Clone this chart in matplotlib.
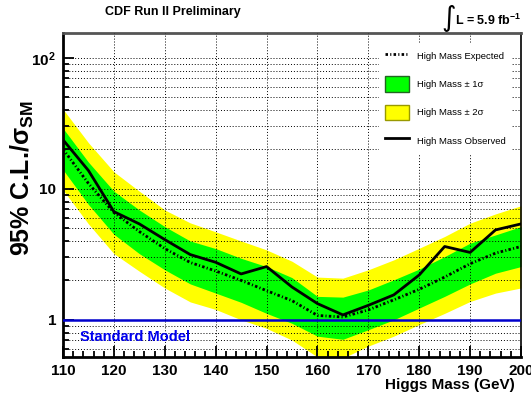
import numpy as np
import matplotlib
matplotlib.use("Agg")
from matplotlib import pyplot as plt
from matplotlib.lines import Line2D
from matplotlib.patches import Patch
from matplotlib.ticker import FixedLocator, FixedFormatter, LogLocator, NullFormatter, MultipleLocator

plt.rcParams['font.family'] = ['Liberation Sans', 'DejaVu Sans']
plt.rcParams['mathtext.fontset'] = 'custom'
plt.rcParams['mathtext.rm'] = 'Liberation Sans'
plt.rcParams['mathtext.bf'] = 'Liberation Sans:bold'
plt.rcParams['mathtext.it'] = 'Liberation Sans:italic'

# Higgs mass points (GeV)
mass = [110, 115, 120, 125, 130, 135, 140, 145, 150, 155,
        160, 165, 170, 175, 180, 185, 190, 195, 200]

# 95% CL limits / SM
observed = [23.7, 13.8, 6.7, 5.4, 4.1, 3.15, 2.75, 2.24, 2.55, 1.78,
            1.33, 1.09, 1.29, 1.55, 2.2, 3.63, 3.27, 4.86, 5.4]
expected = [20.1, 11.0, 6.6, 4.72, 3.5, 2.74, 2.36, 2.0, 1.67, 1.40,
            1.08, 1.05, 1.19, 1.42, 1.71, 2.12, 2.68, 3.23, 3.63]
minus1 = [14.0, 7.6, 4.5, 3.2, 2.41, 1.88, 1.6, 1.36, 1.12, 0.94,
          0.75, 0.71, 0.84, 1.0, 1.23, 1.51, 1.88, 2.27, 2.55]
plus1 = [29.0, 16.0, 9.6, 6.9, 5.15, 4.0, 3.5, 2.95, 2.55, 2.1,
         1.51, 1.49, 1.69, 2.02, 2.44, 3.04, 3.85, 4.45, 5.15]
minus2 = [9.8, 5.4, 3.2, 2.35, 1.75, 1.37, 1.2, 1.0, 0.86, 0.70,
          0.52, 0.51, 0.63, 0.75, 0.92, 1.12, 1.38, 1.6, 1.75]
plus2 = [40.6, 22.5, 13.5, 9.6, 6.9, 5.5, 4.7, 4.0, 3.42, 2.8,
         2.12, 2.08, 2.41, 2.87, 3.52, 4.33, 5.47, 6.44, 7.43]

fig = plt.figure(figsize=(5.31, 4.05), dpi=100)
ax = fig.add_axes([63/531, 1-357/405, (521-63)/531, (357-33)/405])

ax.fill_between(mass, minus2, plus2, color='#ffff00', lw=0, zorder=1)
ax.fill_between(mass, minus1, plus1, color='#00ff00', lw=0, zorder=1.1)
exp_style = (0, (0.9, 0.8, 0.4, 0.8))
ax.plot(mass, expected, color='black', lw=2.0, linestyle=exp_style, zorder=3)
ax.plot(mass, observed, color='black', lw=2.0, zorder=3)
ax.axhline(1.0, color='#0000cc', lw=1.8, zorder=3)
ax.text(113.3, 0.74, 'Standard Model', color='#0000ee', fontsize=10.5,
        fontweight='bold', va='center', ha='left', zorder=4)

ax.set_yscale('log')
ax.set_xlim(110, 200)
ax.set_ylim(0.52, 155)

ax.xaxis.set_major_locator(MultipleLocator(10))
ax.xaxis.set_minor_locator(MultipleLocator(2))
ax.yaxis.set_major_locator(FixedLocator([1, 10, 100]))
ax.yaxis.set_major_formatter(FixedFormatter(['1', '10', r'$\mathbf{10^{2}}$']))
ax.yaxis.set_minor_locator(LogLocator(base=10, subs=np.arange(2, 10)))
ax.yaxis.set_minor_formatter(NullFormatter())

ax.set_axisbelow(False)
grid_style = (0, (1, 2))
ax.grid(which='major', axis='x', color='black', linestyle=grid_style, lw=0.7)
ax.grid(which='both', axis='y', color='black', linestyle=grid_style, lw=0.7)

ax.tick_params(which='both', direction='in', top=False, right=False, width=1.3)
ax.tick_params(which='major', length=8, labelsize=11, pad=5)
ax.tick_params(which='minor', length=4)
for lab in ax.get_xticklabels() + ax.get_yticklabels():
    lab.set_fontweight('bold')

for side in ['left', 'bottom']:
    ax.spines[side].set_linewidth(2)
ax.spines['top'].set_linewidth(2)
ax.spines['top'].set_color('#555555')
ax.spines['right'].set_linewidth(1.2)

handles = [
    Line2D([], [], color='black', lw=2.0, linestyle=exp_style),
    Patch(facecolor='#00ff00', edgecolor='#226622', lw=1),
    Patch(facecolor='#ffff00', edgecolor='#999900', lw=1),
    Line2D([], [], color='black', lw=2.0),
]
labels = ['High Mass Expected', 'High Mass \u00b1 1\u03c3',
          'High Mass \u00b1 2\u03c3', 'High Mass Observed']
leg = ax.legend(handles, labels, loc='upper right',
                bbox_to_anchor=(516/531, 1-38/405), bbox_transform=fig.transFigure,
                fontsize=6.8, frameon=True, fancybox=False, framealpha=1,
                edgecolor='none', facecolor='white', handlelength=2.6,
                handleheight=2.2, labelspacing=1.3, handletextpad=0.8,
                borderpad=0.6)
leg.set_zorder(6)

fig.text(22/531, 1-178/405, r'95% C.L./$\mathbf{\sigma_{SM}}$', rotation=90,
         fontsize=18, fontweight='bold', ha='center', va='center')
fig.text(515/531, 1-385/405, 'Higgs Mass (GeV)', fontsize=11,
         fontweight='bold', ha='right', va='center')
fig.text(105/531, 1-12/405, 'CDF Run II Preliminary', fontsize=9,
         fontweight='bold', ha='left', va='center')
fig.text(449/531, 1-18/405, '\u222b', family='DejaVu Sans', fontsize=20,
         ha='center', va='center')
fig.text(455/531, 1-20/405, r'L = 5.9 fb$^{\mathbf{-1}}$', fontsize=9,
         fontweight='bold', ha='left', va='center')

fig.savefig('out.png', dpi=100)
